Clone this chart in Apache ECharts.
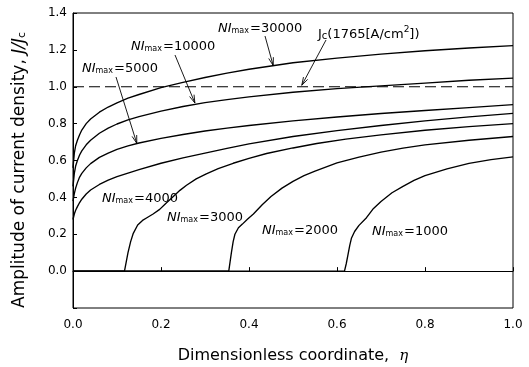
<!DOCTYPE html>
<html><head><meta charset="utf-8">
<script src="https://cdn.jsdelivr.net/npm/echarts@6/dist/echarts.min.js"></script>
<style>html,body{margin:0;padding:0;background:#fff}#c{width:529px;height:367px}</style>
</head><body><div id="c"></div>
<script>
// eta (dimensionless coordinate) vs J/Jc, one array per NI_max
const ni30000 = [[0,0.56],[0.003,0.64],[0.006,0.68],[0.01,0.71],[0.015,0.74],[0.02,0.765],[0.03,0.80],[0.04,0.825],[0.06,0.862],[0.08,0.89],[0.1,0.913],[0.125,0.938],[0.15,0.958],[0.2,0.995],[0.25,1.024],[0.3,1.05],[0.35,1.074],[0.4,1.095],[0.5,1.13],[0.6,1.155],[0.7,1.177],[0.8,1.195],[0.9,1.21],[1.0,1.223]];
const ni10000 = [[0,0.46],[0.003,0.53],[0.006,0.57],[0.01,0.60],[0.015,0.63],[0.02,0.652],[0.03,0.685],[0.04,0.71],[0.06,0.748],[0.08,0.776],[0.1,0.798],[0.125,0.82],[0.15,0.838],[0.2,0.868],[0.25,0.893],[0.3,0.914],[0.35,0.93],[0.4,0.945],[0.5,0.97],[0.6,0.99],[0.7,1.005],[0.8,1.02],[0.9,1.035],[1.0,1.047]];
const ni5000 = [[0,0.38],[0.003,0.42],[0.006,0.45],[0.01,0.48],[0.015,0.51],[0.02,0.53],[0.03,0.56],[0.04,0.583],[0.06,0.617],[0.08,0.64],[0.1,0.66],[0.125,0.679],[0.15,0.695],[0.2,0.72],[0.25,0.741],[0.3,0.76],[0.35,0.776],[0.4,0.79],[0.5,0.815],[0.6,0.836],[0.7,0.855],[0.8,0.871],[0.9,0.887],[1.0,0.903]];
const ni4000 = [[0,0.28],[0.003,0.31],[0.006,0.33],[0.01,0.35],[0.015,0.372],[0.02,0.39],[0.03,0.418],[0.04,0.44],[0.06,0.47],[0.08,0.493],[0.1,0.512],[0.125,0.532],[0.15,0.55],[0.2,0.585],[0.25,0.614],[0.3,0.64],[0.35,0.666],[0.4,0.69],[0.5,0.73],[0.6,0.762],[0.7,0.79],[0.8,0.815],[0.9,0.837],[1.0,0.856]];
const ni3000 = [[0,0],[0.117,0],[0.121,0.05],[0.125,0.1],[0.131,0.16],[0.137,0.205],[0.147,0.25],[0.158,0.275],[0.167,0.288],[0.182,0.31],[0.197,0.335],[0.212,0.37],[0.228,0.405],[0.243,0.438],[0.258,0.466],[0.28,0.5],[0.303,0.528],[0.33,0.556],[0.364,0.585],[0.4,0.612],[0.44,0.638],[0.5,0.668],[0.554,0.692],[0.62,0.716],[0.7,0.739],[0.8,0.764],[0.9,0.784],[1.0,0.80]];
const ni2000 = [[0,0],[0.354,0],[0.357,0.05],[0.36,0.1],[0.364,0.16],[0.368,0.2],[0.376,0.235],[0.385,0.255],[0.397,0.283],[0.41,0.31],[0.43,0.36],[0.45,0.405],[0.475,0.45],[0.5,0.487],[0.525,0.518],[0.55,0.543],[0.6,0.587],[0.65,0.618],[0.7,0.645],[0.75,0.667],[0.8,0.685],[0.9,0.71],[1.0,0.73]];
const ni1000 = [[0,0],[0.617,0],[0.621,0.04],[0.625,0.09],[0.629,0.14],[0.633,0.18],[0.64,0.215],[0.65,0.248],[0.667,0.29],[0.683,0.34],[0.7,0.378],[0.725,0.425],[0.75,0.46],[0.775,0.492],[0.8,0.518],[0.85,0.555],[0.9,0.584],[0.95,0.605],[1.0,0.62]];
const jcLevel = [[0,1.0],[1.0,1.0]];
const xTickLabels = ['0.0','0.2','0.4','0.6','0.8','1.0'];
const yTickLabels = ['0.0','0.2','0.4','0.6','0.8','1.0','1.2','1.4'];
const curveLabels = ['30000','10000','5000','4000','3000','2000','1000'];

const FONT = 'DejaVu Sans';
const chart = echarts.init(document.getElementById('c'));
function curve(name, data){
  return {name, type:'line', data, symbol:'none', showSymbol:false, smooth:false,
    lineStyle:{color:'#000', width:1.35, join:'round'}, z:3, silent:true};
}
const series = [
  curve('30000', ni30000), curve('10000', ni10000), curve('5000', ni5000), curve('4000', ni4000),
  curve('3000', ni3000), curve('2000', ni2000), curve('1000', ni1000),
  {name:'Jc', type:'line', data:jcLevel, symbol:'none', lineStyle:{color:'#000', width:1.2, type:[11,5]}, z:2, silent:true}
];
chart.setOption({
  animation:false,
  grid:{left:73, right:16, top:13, bottom:59, show:true, borderColor:'#000', borderWidth:1},
  xAxis:{type:'value', min:0, max:1, interval:0.2,
    axisLine:{lineStyle:{color:'#000', width:1}}, axisTick:{inside:true, length:4, lineStyle:{color:'#000'}},
    splitLine:{show:false},
    axisLabel:{color:'#000', fontFamily:FONT, fontSize:12, margin:11, formatter:v=>xTickLabels[Math.round(v/0.2)]}},
  yAxis:{type:'value', min:-0.2, max:1.4, interval:0.2,
    axisLine:{lineStyle:{color:'#000', width:1}}, axisTick:{inside:true, length:4, lineStyle:{color:'#000'}},
    splitLine:{show:false},
    axisLabel:{color:'#000', fontFamily:FONT, fontSize:12, margin:6, formatter:v=> v < -0.01 ? '' : yTickLabels[Math.round(v/0.2)]}},
  series
});

const labRich = {
  i:{fontFamily:FONT, fontStyle:'italic', fontSize:13, lineHeight:16, verticalAlign:'bottom', color:'#000'},
  s:{fontFamily:FONT, fontSize:8, lineHeight:10, verticalAlign:'bottom', color:'#000', padding:[0,1,0,0]},
  n:{fontFamily:FONT, fontSize:13, lineHeight:16, verticalAlign:'bottom', color:'#000'}
};
function niLabel(txt, x, y){
  return {type:'text', x, y, silent:true, style:{text:'{i|NI}{s|max}{n|=' + txt + '}', rich:labRich, align:'left', verticalAlign:'middle'}};
}
const labelPos = {'30000':[218,27],'10000':[131,45],'5000':[82,67],'4000':[102,197],'3000':[167,216],'2000':[262,229],'1000':[372,230]};
const graphics = curveLabels.map(k => niLabel(k, labelPos[k][0], labelPos[k][1]));
graphics.push({type:'text', x:318, y:33, silent:true, style:{
  text:'{n|J}{s|c}{n|(1765[A/cm}{p|2}{n|])}', align:'left', verticalAlign:'middle',
  rich:{n:{fontFamily:FONT, fontSize:13, lineHeight:16, verticalAlign:'bottom', color:'#000'},
        s:{fontFamily:FONT, fontSize:10, lineHeight:13, verticalAlign:'bottom', color:'#000'},
        p:{fontFamily:FONT, fontSize:9, lineHeight:16, verticalAlign:'top', color:'#000'}}}});
// axis names
graphics.push({type:'text', x:293, y:354, silent:true, style:{
  text:'{n|Dimensionless coordinate,  }{e|η}', align:'center', verticalAlign:'middle',
  rich:{n:{fontFamily:FONT, fontSize:16, lineHeight:20, verticalAlign:'bottom', color:'#000'},
        e:{fontFamily:'DejaVu Serif', fontStyle:'italic', fontSize:15, lineHeight:20, verticalAlign:'bottom', color:'#000'}}}});
graphics.push({type:'text', x:18, y:170, rotation:Math.PI/2, silent:true, style:{
  text:'{n|Amplitude of current density, }{i|J/J}{s|c}', align:'center', verticalAlign:'middle',
  rich:{n:{fontFamily:FONT, fontSize:17, lineHeight:20, verticalAlign:'bottom', color:'#000'},
        i:{fontFamily:FONT, fontStyle:'italic', fontSize:17, lineHeight:20, verticalAlign:'bottom', color:'#000'},
        s:{fontFamily:FONT, fontSize:11, lineHeight:14, verticalAlign:'bottom', color:'#000'}}}});
// arrows: tail in pixels, tip anchored to data coordinates
const arrows = [
  {tail:[265,36], tip:[0.455,1.115]},
  {tail:[175,55], tip:[0.277,0.912]},
  {tail:[116,77], tip:[0.145,0.693]},
  {tail:[326,40], tip:[0.52,1.008]}
];
arrows.forEach(a => {
  const p = chart.convertToPixel({gridIndex:0}, a.tip);
  const dx = p[0]-a.tail[0], dy = p[1]-a.tail[1];
  const len = Math.hypot(dx,dy), ux = dx/len, uy = dy/len;
  const hl = 8, hw = 2.4;
  const b = [p[0]-ux*hl, p[1]-uy*hl];
  graphics.push({type:'line', silent:true, shape:{x1:a.tail[0], y1:a.tail[1], x2:p[0], y2:p[1]}, style:{stroke:'#000', lineWidth:0.9}});
  graphics.push({type:'polyline', silent:true, shape:{points:[[b[0]-uy*hw, b[1]+ux*hw],[p[0],p[1]],[b[0]+uy*hw, b[1]-ux*hw]]}, style:{stroke:'#000', lineWidth:0.9, fill:null}});
});
chart.setOption({graphic:graphics});
</script></body></html>
